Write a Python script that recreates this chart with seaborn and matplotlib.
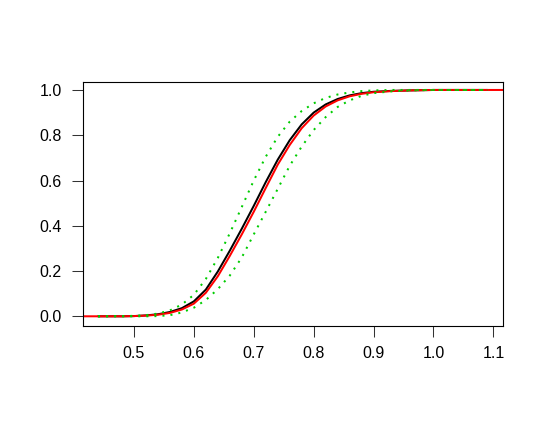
import numpy as np
import matplotlib
matplotlib.use('Agg')
import matplotlib.pyplot as plt
import seaborn as sns

# ── Values (x, cumulative probability) ───────────────────────────────────────
x_grid = [0.44, 0.48, 0.50, 0.52, 0.54, 0.56, 0.58, 0.60, 0.62, 0.64, 0.66,
          0.68, 0.70, 0.72, 0.74, 0.76, 0.78, 0.80, 0.82, 0.84, 0.86, 0.88,
          0.90, 0.93, 0.96, 1.00, 1.09]

cdf_black = [0.000, 0.000, 0.001, 0.004, 0.009, 0.019, 0.036, 0.066, 0.118,
             0.198, 0.290, 0.387, 0.488, 0.593, 0.692, 0.778, 0.848, 0.900,
             0.936, 0.960, 0.976, 0.986, 0.992, 0.996, 0.998, 1.000, 1.000]

band_lower = [0.000, 0.000, 0.000, 0.000, 0.001, 0.005, 0.017, 0.038, 0.072,
              0.120, 0.180, 0.260, 0.362, 0.462, 0.563, 0.665, 0.750, 0.823,
              0.880, 0.925, 0.954, 0.974, 0.986, 0.994, 0.998, 1.000, 1.000]

band_upper = [0.000, 0.001, 0.002, 0.005, 0.012, 0.026, 0.052, 0.095, 0.165,
              0.258, 0.367, 0.483, 0.600, 0.705, 0.793, 0.860, 0.907, 0.941,
              0.965, 0.980, 0.989, 0.995, 0.998, 1.000, 1.000, 1.000, 1.000]

x_red = [0.40, 0.48, 0.50, 0.52, 0.54, 0.56, 0.58, 0.60, 0.62, 0.64, 0.66,
         0.68, 0.70, 0.72, 0.74, 0.76, 0.78, 0.80, 0.82, 0.84, 0.86, 0.88,
         0.90, 0.93, 0.96, 1.00, 1.13]
cdf_red = [0.000, 0.000, 0.001, 0.003, 0.007, 0.015, 0.030, 0.056, 0.104,
           0.177, 0.267, 0.362, 0.462, 0.567, 0.670, 0.757, 0.831, 0.887,
           0.927, 0.954, 0.972, 0.983, 0.990, 0.995, 0.998, 1.000, 1.000]

x_ticks = [0.5, 0.6, 0.7, 0.8, 0.9, 1.0, 1.1]
y_ticks = [0.0, 0.2, 0.4, 0.6, 0.8, 1.0]

# ── Style ────────────────────────────────────────────────────────────────────
sns.set_theme(style='white')
plt.rcParams['font.family'] = ['Liberation Sans', 'DejaVu Sans']

fig = plt.figure(figsize=(5.45, 4.29), dpi=100)
ax = fig.add_axes([0.1517, 0.2408, 0.7712, 0.5688])

green = '#00CC00'
lw = 1.45

sns.lineplot(x=x_grid, y=cdf_black, ax=ax, color='black', linewidth=lw,
             sort=False)
sns.lineplot(x=x_red, y=cdf_red, ax=ax, color='red', linewidth=lw, sort=False)
for band in (band_lower, band_upper):
    sns.lineplot(x=x_grid, y=band, ax=ax, color=green, linewidth=lw,
                 linestyle=(0, (1, 3)), sort=False)

ax.set_xlim(0.4144, 1.116)
ax.set_ylim(-0.0415, 1.0366)
ax.set_xticks(x_ticks)
ax.set_xticklabels([f'{t:.1f}' for t in x_ticks])
ax.set_yticks(y_ticks)
ax.set_yticklabels([f'{t:.1f}' for t in y_ticks])
ax.tick_params(axis='both', which='major', direction='out', length=7.9,
               width=0.75, color='#333333', labelcolor='black',
               labelsize=11.5, pad=7, bottom=True, left=True)
for s in ax.spines.values():
    s.set_color('black')
    s.set_linewidth(0.8)
ax.set_xlabel('')
ax.set_ylabel('')

fig.savefig('out.png', dpi=100)
